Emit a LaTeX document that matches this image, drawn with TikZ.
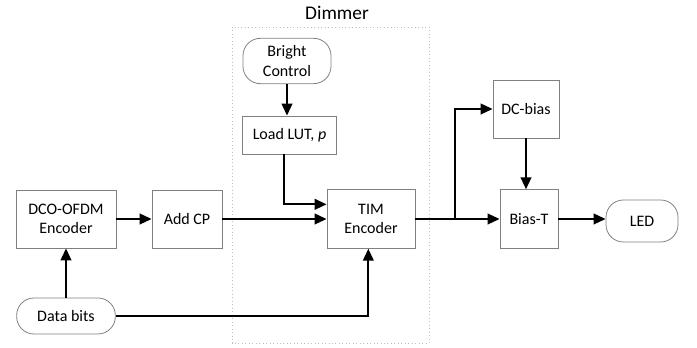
\documentclass[tikz,border=0pt]{standalone}
\usepackage{fontspec}
\setmainfont{Carlito}
\usetikzlibrary{arrows.meta}

\begin{document}
\begin{tikzpicture}
      [x=0.75pt, y=-0.75pt,
        blk/.style={draw=gray, line width=0.6pt, align=center, inner sep=0pt,
          font=\fontsize{12}{14.5}\selectfont},
        term/.style={blk, rounded corners=13pt},
        conn/.style={line width=1.5pt, -{Triangle[length=9pt, width=8pt]}}]
      \useasboundingbox (0,0) rectangle (697,348);
      % dimmer frame
      \draw[gray!50, dotted, line width=0.6pt] (232,27) rectangle (429,343);
      \node[font=\fontsize{14.5}{16}\selectfont] (dimmer) at (337,13) {Dimmer};
      % blocks
      \node[blk, minimum width=75pt, minimum height=43.5pt] (dco) at (66,219) {DCO-OFDM\\Encoder};
      \node[blk, minimum width=52.5pt, minimum height=43.5pt] (addcp) at (187,219) {Add CP};
      \node[term, minimum width=74pt, minimum height=27pt] (bits) at (66,316) {Data bits};
      \node[term, minimum width=66pt, minimum height=34pt] (bright) at (287,61) {Bright\\Control};
      \node[blk, minimum width=70pt, minimum height=28.5pt] (lut) at (289.5,135) {Load LUT, \textit{p}};
      \node[blk, minimum width=66pt, minimum height=44pt] (tim) at (371,219) {TIM\\Encoder};
      \node[blk, minimum width=49.5pt, minimum height=43.5pt] (dcbias) at (526,109) {DC-bias};
      \node[blk, minimum width=43.5pt, minimum height=44pt] (biast) at (529,219) {Bias-T};
      \node[term, minimum width=54pt, minimum height=31.5pt] (led) at (642,221) {LED};
      \coordinate (split) at (455,219);
      % connections
      \draw[conn] (bits) -- (dco);
      \draw[conn] (dco) -- (addcp);
      \draw[conn] (addcp) -- (tim);
      \draw[conn] (bright) -- (bright |- lut.north);
      \draw[conn] ([xshift=-4pt]lut.south) |- ([yshift=11pt]tim.west);
      \draw[conn] (bits) -| ([xshift=-2pt]tim.south);
      \draw[line width=1.5pt] (tim) -- (split);
      \draw[conn] (split) -- (biast);
      \draw[conn] (split) |- (dcbias);
      \draw[conn] (dcbias) -- (dcbias |- biast.north);
      \draw[conn] (biast) -- (biast -| led.west);
    \end{tikzpicture}
\end{document}
